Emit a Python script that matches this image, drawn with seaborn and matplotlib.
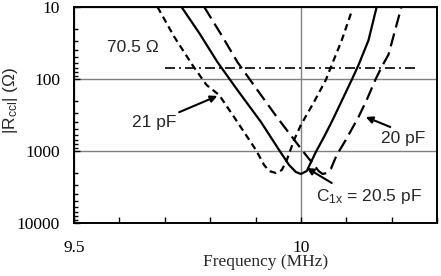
import numpy as np
import pandas as pd
import matplotlib
matplotlib.use("Agg")
import matplotlib.pyplot as plt
import matplotlib.ticker as mticker
import seaborn as sns

# curve data (frequency in MHz, |R| in ohm)
f_21 = [9.684, 9.721, 9.761, 9.792, 9.820, 9.860, 9.901, 9.919, 9.930, 9.945,
        9.958, 9.969, 9.985, 10.000, 10.029, 10.055, 10.068, 10.090, 10.113]
r_21 = [10, 26, 64, 121, 167, 395, 969, 1565, 1896, 2021,
        1836, 1334, 703, 435, 208, 103, 64, 29, 11]

f_205 = [9.737, 9.776, 9.816, 9.860, 9.912, 9.952, 9.974, 9.989, 10.000,
         10.013, 10.033, 10.052, 10.070, 10.112, 10.127, 10.149, 10.167]
r_205 = [10, 23, 58, 142, 395, 969, 1565, 1958, 2086,
         1896, 1032, 620, 371, 103, 64, 29, 10]

f_20 = [9.787, 9.825, 9.860, 9.904, 9.947, 9.989, 10.011, 10.029, 10.039, 10.048,
        10.057, 10.066, 10.079, 10.099, 10.127, 10.145, 10.164, 10.178, 10.193, 10.221]
r_20 = [10, 24.5, 58, 142, 337, 750, 1136, 1565, 1896, 2086,
        2021, 1778, 1136, 703, 337, 196, 103, 68, 46, 10.3]

ref_f = [9.7, 10.26]
ref_r = [70.5, 70.5]

caps = ["21 pF", "20.5 pF", "20 pF"]

df = pd.concat([
    pd.DataFrame({"freq": f_21, "R": r_21, "cap": caps[0]}),
    pd.DataFrame({"freq": f_205, "R": r_205, "cap": caps[1]}),
    pd.DataFrame({"freq": f_20, "R": r_20, "cap": caps[2]}),
], ignore_index=True)

sns.set_style("ticks")
plt.rcParams["font.family"] = ["Liberation Serif", "DejaVu Serif"]
plt.rcParams["mathtext.default"] = "regular"

fig = plt.figure(figsize=(4.41, 2.76), dpi=100)
ax = fig.add_axes([74 / 441, 1 - 223 / 276, 363 / 441, 216 / 276])

sns.lineplot(data=df, x="freq", y="R", style="cap", units="cap", estimator=None,
             sort=False, color="black", lw=1.6, legend=False, ax=ax,
             dashes={"21 pF": (3, 2), "20.5 pF": "", "20 pF": (6, 2.8)})
sns.lineplot(x=ref_f, y=ref_r, color="black", lw=1.2, ax=ax,
             dashes=[(6, 2.4, 1.2, 2.4)], style=[0, 0], legend=False)

ax.set_yscale("log")
ax.set_ylim(10000, 10)
ax.set_xlim(9.5, 10.3)

ax.xaxis.set_major_locator(mticker.FixedLocator([9.5, 10]))
ax.xaxis.set_major_formatter(mticker.FixedFormatter(["9.5", "10"]))
ax.xaxis.set_minor_locator(mticker.MultipleLocator(0.1))
ax.yaxis.set_major_locator(mticker.FixedLocator([10, 100, 1000, 10000]))
ax.yaxis.set_major_formatter(mticker.FixedFormatter(["10", "100", "1000", "10000"]))
ax.yaxis.set_minor_locator(mticker.LogLocator(base=10, subs=np.arange(2, 10)))
ax.yaxis.set_minor_formatter(mticker.NullFormatter())

ax.tick_params(which="both", direction="in", width=1, colors="black",
               labelsize=12.5, top=False, right=False)
ax.tick_params(axis="y", which="major", length=4, pad=10)
ax.tick_params(axis="y", which="minor", length=3)
ax.tick_params(axis="x", which="major", length=4, pad=12)
ax.tick_params(axis="x", which="minor", length=4)

ax.grid(True, which="major", color="#808080", lw=1)
for s in ax.spines.values():
    s.set_color("black")
    s.set_linewidth(1.4)
    s.set_visible(True)

ax.set_xlabel("Frequency (MHz)", fontsize=12.5)
ax.xaxis.set_label_coords(0.529, -0.145)
ax.set_ylabel(r"|R$_{\mathregular{ccl}}$| (Ω)", fontsize=12.5,
              family=["Liberation Sans", "DejaVu Sans"])
ax.yaxis.set_label_coords(-0.148, 0.57)

sans = ["Liberation Sans", "DejaVu Sans"]
arrow = dict(arrowstyle="-|>", color="black", lw=1.5, mutation_scale=10,
             shrinkA=0, shrinkB=0)
ax.text(9.572, 37, "70.5 Ω", fontsize=12.5, family=sans, ha="left", va="center")
ax.annotate("21 pF", xy=(9.816, 172), xytext=(9.627, 408), fontsize=12.5,
            family=sans, ha="left", va="center", arrowprops=arrow)
ax.annotate("", xy=(10.143, 337), xytext=(10.197, 464), arrowprops=arrow)
ax.text(10.177, 660, "20 pF", fontsize=12.5, family=sans, ha="left", va="center")
ax.annotate("", xy=(10.013, 1720), xytext=(10.068, 2780), arrowprops=arrow)
ax.text(10.033, 4350, r"C$_{\mathregular{1x}}$ = 20.5 pF", fontsize=12.5,
        family=sans, ha="left", va="center")

fig.savefig("out.png", dpi=100)
